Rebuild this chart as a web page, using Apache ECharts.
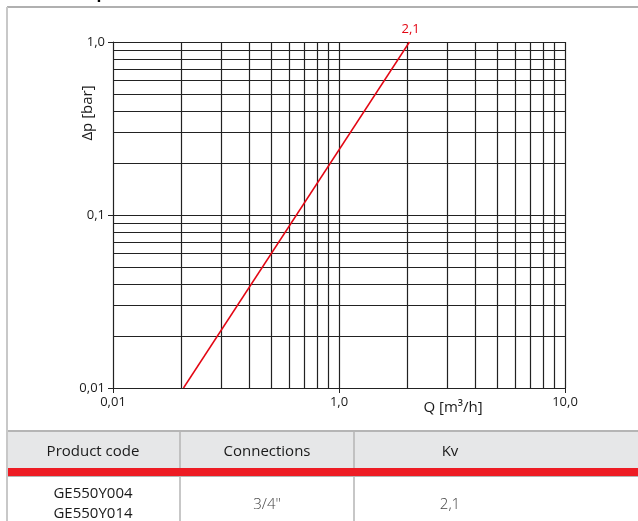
<!DOCTYPE html>
<html><head><meta charset="utf-8">
<script src="https://cdn.jsdelivr.net/npm/echarts@6/dist/echarts.min.js"></script>
<style>html,body{margin:0;padding:0;background:#fff}#c{width:638px;height:521px}</style>
</head><body><div id="c"></div>
<script>
// Data
const flowQ = [0.205, 2.05];          // Q [m3/h]
const pressureDp = [0.01, 1.0];       // Δp [bar]
const curveLabel = '2,1';
const xGridValues = [0.2,0.3,0.4,0.5,0.6,0.7,0.8,0.9,1,2,3,4,5,6,7,8,9,10];
const yGridValues = [0.02,0.03,0.04,0.05,0.06,0.07,0.08,0.09,0.1,0.2,0.3,0.4,0.5,0.6,0.7,0.8,0.9,1];
const xTickLabels = [[0.1,'0,01'], [1,'1,0'], [10,'10,0']];
const yTickLabels = [[0.01,'0,01'], [0.1,'0,1'], [1,'1,0']];
const xAxisName = 'Q [m³/h]';
const yAxisName = 'Δp [bar]';
const tableHeaders = ['Product code','Connections','Kv'];
const tableRow = [['GE550Y004','GE550Y014'], ['3/4"'], ['2,1']];

const FONT = '"Open Sans", "Noto Sans", sans-serif';
const chart = echarts.init(document.getElementById('c'), null, {renderer:'canvas'});
const gridColor = '#222';
const gridStyle = {color:gridColor, width:1.2, type:'solid'};

const curveData = flowQ.map((q,i)=>[q, pressureDp[i]]);
const labelFor = (list, v) => { const f = list.find(p => Math.abs(p[0]-v) < 1e-9*Math.max(1,v)); return f ? f[1] : ''; };

const colX = [7, 180, 354, 638];
const colCenters = [93, 267, 450];

const graphics = [
  {type:'line', shape:{x1:7,y1:7,x2:638,y2:7}, style:{stroke:'#b0b0b0', lineWidth:2}, z:1},
  {type:'line', shape:{x1:7,y1:7,x2:7,y2:521}, style:{stroke:'#c8c8c8', lineWidth:2}, z:1},
  {type:'rect', shape:{x:8,y:431,width:630,height:37}, style:{fill:'#e6e7e8'}, z:1},
  {type:'line', shape:{x1:8,y1:431,x2:638,y2:431}, style:{stroke:'#b5b5b5', lineWidth:2}, z:2},
  {type:'rect', shape:{x:8,y:468,width:630,height:8}, style:{fill:'#ed1c24'}, z:2},
  {type:'line', shape:{x1:8,y1:476.5,x2:638,y2:476.5}, style:{stroke:'#b5b5b5', lineWidth:1}, z:2},
  {type:'text', left:86, top:-15, style:{text:'Δp', font:'bold 16px '+FONT, fill:'#000'}, z:3},
  {type:'text', x:88, y:113, rotation:Math.PI/2, style:{text:yAxisName, font:'15px '+FONT, fill:'#1a1a1a', textAlign:'center', textVerticalAlign:'middle'}, z:3},
  {type:'text', x:453, y:408, style:{text:xAxisName, font:'15px '+FONT, fill:'#1a1a1a', textAlign:'center', textVerticalAlign:'middle'}, z:3}
];
[1,2].forEach(i=>{
  graphics.push({type:'line', shape:{x1:colX[i],y1:432,x2:colX[i],y2:468}, style:{stroke:'#b5b5b5', lineWidth:1.5}, z:2});
  graphics.push({type:'line', shape:{x1:colX[i],y1:477,x2:colX[i],y2:521}, style:{stroke:'#b5b5b5', lineWidth:1.5}, z:2});
});
tableHeaders.forEach((h,i)=>{
  graphics.push({type:'text', x:colCenters[i], y:452, style:{text:h, font:'15px '+FONT, fill:'#1a1a1a', textAlign:'center', textVerticalAlign:'middle'}, z:3});
});
tableRow.forEach((cell,i)=>{
  if(cell.length===2){
    graphics.push({type:'text', x:colCenters[i], y:494, style:{text:cell[0], font:'15px '+FONT, fill:'#1a1a1a', textAlign:'center', textVerticalAlign:'middle'}, z:3});
    graphics.push({type:'text', x:colCenters[i], y:514, style:{text:cell[1], font:'15px '+FONT, fill:'#1a1a1a', textAlign:'center', textVerticalAlign:'middle'}, z:3});
  } else {
    graphics.push({type:'text', x:colCenters[i], y:505, style:{text:cell[0], font:'300 15px '+FONT, fill:'#444', textAlign:'center', textVerticalAlign:'middle'}, z:3});
  }
});

chart.setOption({
  animation:false,
  backgroundColor:'#fff',
  grid:{left:113, right:73, top:42, bottom:133, containLabel:false},
  xAxis:{
    type:'log', logBase:10, min:0.1, max:10,
    axisLine:{show:true, lineStyle:{color:gridColor, width:1.2}},
    axisTick:{show:true, length:5, lineStyle:{color:gridColor}},
    splitLine:{show:false},
    axisLabel:{fontFamily:FONT, fontSize:13, color:'#1a1a1a', margin:8, formatter:v=>labelFor(xTickLabels, v)}
  },
  yAxis:{
    type:'log', logBase:10, min:0.01, max:1,
    axisLine:{show:true, lineStyle:{color:gridColor, width:1.2}},
    axisTick:{show:true, length:5, lineStyle:{color:gridColor}},
    splitLine:{show:false},
    axisLabel:{fontFamily:FONT, fontSize:13, color:'#1a1a1a', margin:8, formatter:v=>labelFor(yTickLabels, v)}
  },
  series:[
    {
      type:'line', data:[], silent:true,
      markLine:{
        silent:true, symbol:['none','none'], label:{show:false}, animation:false,
        lineStyle:gridStyle,
        data:[...xGridValues.map(v=>({xAxis:v})), ...yGridValues.map(v=>({yAxis:v}))]
      }
    },
    {
      type:'line', data:curveData, symbol:'none', z:5,
      lineStyle:{color:'#e30613', width:1.5},
      endLabel:{show:true, formatter:curveLabel, color:'#e30613', fontFamily:FONT, fontSize:13, offset:[-16,-13]}
    }
  ],
  graphic:graphics
});
</script></body></html>
